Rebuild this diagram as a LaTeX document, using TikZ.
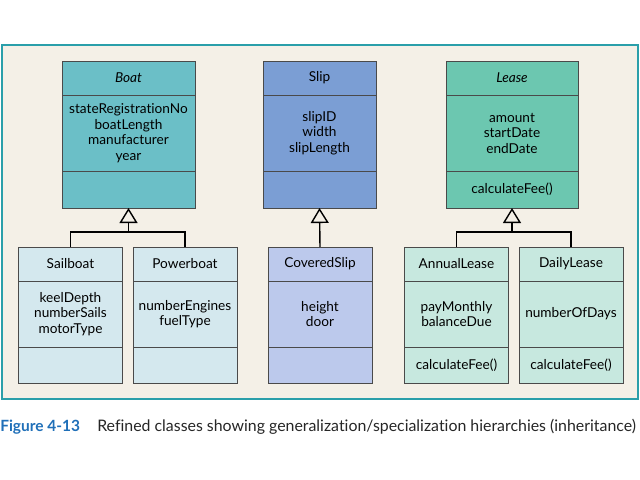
\documentclass[tikz,border=0pt]{standalone}
\usepackage{fontspec}
\setmainfont{Lato}[Ligatures=NoCommon]
\usetikzlibrary{positioning,arrows.meta}
\definecolor{framec}{HTML}{2A9FAA}
\definecolor{bgc}{HTML}{F4F0E7}
\definecolor{linec}{HTML}{4A4A4A}
\definecolor{boatc}{HTML}{6BBFC7}
\definecolor{slipc}{HTML}{7B9ED4}
\definecolor{leasec}{HTML}{6CC7B0}
\definecolor{boatsub}{HTML}{D4E8EE}
\definecolor{slipsub}{HTML}{BCC9EC}
\definecolor{leasesub}{HTML}{C7E8DF}
\definecolor{figblue}{HTML}{1F6FB8}

\begin{document}
\begin{tikzpicture}[x=0.025cm, y=-0.025cm, box/.style={draw=linec, line width=0.6pt, rectangle, inner sep=0pt, outer sep=0pt, align=center, font=\fontsize{9.7}{11}\selectfont}, head/.style={box, minimum height=0.85cm}, big/.style={box, minimum height=1.9cm}, bigop/.style={box, minimum height=0.925cm}, small/.style={box, minimum width=2.6cm, minimum height=1.65cm}, smallop/.style={box, minimum width=2.6cm, minimum height=0.9cm}, gen/.style={-{Triangle[open, width=0.45cm, length=0.375cm]}, line width=1pt}, bar/.style={line width=1pt}]
            \useasboundingbox (0,0) rectangle (640,480);
            \draw[draw=framec, fill=bgc, line width=1.2pt] (2,45) rectangle (638,399);
            % superclasses
            \node[head, fill=boatc, minimum width=3.325cm] (boat) at (128.5,78) {\itshape Boat};
            \node[big, fill=boatc, minimum width=3.325cm, below=0pt of boat] (boatattr) {stateRegistrationNo\\boatLength\\manufacturer\\year};
            \node[bigop, fill=boatc, minimum width=3.325cm, below=0pt of boatattr] (boatop) {};
            \node[head, fill=slipc, minimum width=2.825cm] (slip) at (319.5,78) {Slip};
            \node[big, fill=slipc, minimum width=2.825cm, below=0pt of slip] (slipattr) {slipID\\width\\slipLength};
            \node[bigop, fill=slipc, minimum width=2.825cm, below=0pt of slipattr] (slipop) {};
            \node[head, fill=leasec, minimum width=3.3cm] (lease) at (512,78) {\itshape Lease};
            \node[big, fill=leasec, minimum width=3.3cm, below=0pt of lease] (leaseattr) {amount\\startDate\\endDate};
            \node[bigop, fill=leasec, minimum width=3.3cm, below=0pt of leaseattr] (leaseop) {calculateFee()};
            % subclasses
            \node[head, fill=boatsub, minimum width=2.6cm] (sail) at (70.5,264) {Sailboat};
            \node[small, fill=boatsub, below=0pt of sail] (sailattr) {keelDepth\\numberSails\\motorType};
            \node[smallop, fill=boatsub, below=0pt of sailattr] (sailop) {};
            \node[head, fill=boatsub, minimum width=2.6cm] (power) at (185,264) {Powerboat};
            \node[small, fill=boatsub, below=0pt of power] (powerattr) {numberEngines\\fuelType};
            \node[smallop, fill=boatsub, below=0pt of powerattr] (powerop) {};
            \node[head, fill=slipsub, minimum width=2.6cm] (covered) at (320,264) {CoveredSlip};
            \node[small, fill=slipsub, below=0pt of covered] (coveredattr) {height\\door};
            \node[smallop, fill=slipsub, below=0pt of coveredattr] (coveredop) {};
            \node[head, fill=leasesub, minimum width=2.6cm] (annual) at (456.5,264) {AnnualLease};
            \node[small, fill=leasesub, below=0pt of annual] (annualattr) {payMonthly\\balanceDue};
            \node[smallop, fill=leasesub, below=0pt of annualattr] (annualop) {calculateFee()};
            \node[head, fill=leasesub, minimum width=2.6cm] (daily) at (571,264) {DailyLease};
            \node[small, fill=leasesub, below=0pt of daily] (dailyattr) {numberOfDays};
            \node[smallop, fill=leasesub, below=0pt of dailyattr] (dailyop) {calculateFee()};
            % generalization
            \coordinate (boatjoin) at (128.5,232);
            \coordinate (leasejoin) at (512,232);
            \draw[bar] (sail.north) |- (boatjoin);
            \draw[bar] (power.north) |- (boatjoin);
            \draw[gen] (boatjoin) -- (boatop.south);
            \draw[gen] (covered.north) -- (slipop.south);
            \draw[bar] (annual.north) |- (leasejoin);
            \draw[bar] (daily.north) |- (leasejoin);
            \draw[gen] (leasejoin) -- (leaseop.south);
            % caption
            \node[anchor=base west, inner sep=0pt, text=figblue, font=\fontsize{11}{13}\selectfont\bfseries] (fignum) at (0,431) {Figure 4-13};
            \node[anchor=base west, inner sep=0pt, text=black!85, font=\fontsize{11.3}{13}\selectfont] (figtext) at (97,431) {Refined classes showing generalization/specialization hierarchies (inheritance)};
        \end{tikzpicture}
\end{document}
